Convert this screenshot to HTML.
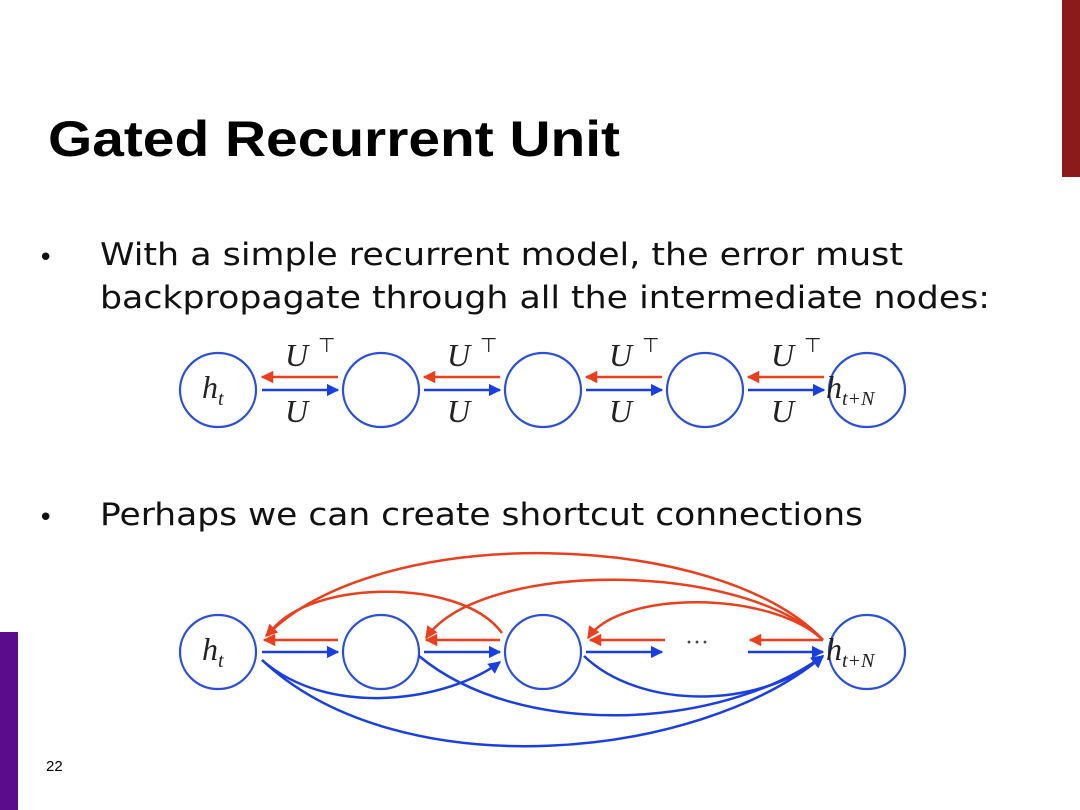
<!DOCTYPE html>
<html><head><meta charset="utf-8"><style>
html,body{margin:0;padding:0;background:#fff;}
svg{display:block}
</style></head><body>
<svg width="1080" height="810" viewBox="0 0 1080 810" xmlns="http://www.w3.org/2000/svg">
<defs>
<marker id="ar" viewBox="0 0 10 10" refX="9" refY="5" markerWidth="5" markerHeight="5" orient="auto"><path d="M0,0 L10,5 L0,10 z" fill="#e8401e"/></marker>
<marker id="ab" viewBox="0 0 10 10" refX="9" refY="5" markerWidth="5" markerHeight="5" orient="auto"><path d="M0,0 L10,5 L0,10 z" fill="#1a3fe0"/></marker>
</defs>
<rect x="1062" y="0" width="18" height="177" fill="#8b1a1a"/>
<rect x="0" y="632" width="18" height="178" fill="#5b0c8c"/>
<text x="48" y="156" font-family="Liberation Sans, sans-serif" font-weight="bold" font-size="50" textLength="572" lengthAdjust="spacingAndGlyphs">Gated Recurrent Unit</text>
<g font-family="DejaVu Sans, sans-serif" font-size="31" fill="#111">
<text x="38" y="266" font-size="26">•</text>
<text x="100" y="265" textLength="803" lengthAdjust="spacingAndGlyphs">With a simple recurrent model, the error must</text>
<text x="100" y="308" textLength="890" lengthAdjust="spacingAndGlyphs">backpropagate through all the intermediate nodes:</text>
<text x="38" y="526" font-size="26">•</text>
<text x="100" y="525" textLength="763" lengthAdjust="spacingAndGlyphs">Perhaps we can create shortcut connections</text>
</g>
<text x="46" y="771" font-family="Liberation Sans, sans-serif" font-size="15">22</text>

<!-- top diagram -->
<g fill="none" stroke="#2b4fd8" stroke-width="2.2">
<ellipse cx="218" cy="390" rx="38" ry="37"/>
<ellipse cx="381" cy="390" rx="38" ry="37"/>
<ellipse cx="543" cy="390" rx="38" ry="37"/>
<ellipse cx="705" cy="390" rx="38" ry="37"/>
<ellipse cx="867" cy="390" rx="38" ry="37"/>
</g>
<g stroke-width="2.5">
<line x1="338" y1="377" x2="262" y2="377" stroke="#e8401e" marker-end="url(#ar)"/>
<line x1="500" y1="377" x2="424" y2="377" stroke="#e8401e" marker-end="url(#ar)"/>
<line x1="662" y1="377" x2="586" y2="377" stroke="#e8401e" marker-end="url(#ar)"/>
<line x1="824" y1="377" x2="748" y2="377" stroke="#e8401e" marker-end="url(#ar)"/>
<line x1="262" y1="390" x2="338" y2="390" stroke="#1a3fe0" marker-end="url(#ab)"/>
<line x1="424" y1="390" x2="500" y2="390" stroke="#1a3fe0" marker-end="url(#ab)"/>
<line x1="586" y1="390" x2="662" y2="390" stroke="#1a3fe0" marker-end="url(#ab)"/>
<line x1="748" y1="390" x2="824" y2="390" stroke="#1a3fe0" marker-end="url(#ab)"/>
</g>
<g font-family="Liberation Serif, serif" font-style="italic" font-size="32" fill="#222">
<text x="285" y="366">U</text><text x="318" y="352" font-size="20" font-style="normal">⊤</text>
<text x="447" y="366">U</text><text x="480" y="352" font-size="20" font-style="normal">⊤</text>
<text x="609" y="366">U</text><text x="642" y="352" font-size="20" font-style="normal">⊤</text>
<text x="771" y="366">U</text><text x="804" y="352" font-size="20" font-style="normal">⊤</text>
<text x="285" y="422">U</text><text x="447" y="422">U</text><text x="609" y="422">U</text><text x="771" y="422">U</text>
<text x="202" y="398">h<tspan font-size="20" dy="7">t</tspan></text>
<text x="826" y="398">h<tspan font-size="20" dy="7">t+N</tspan></text>
</g>

<!-- bottom diagram -->
<g fill="none" stroke="#2b4fd8" stroke-width="2.2">
<ellipse cx="218" cy="652" rx="38" ry="37"/>
<ellipse cx="381" cy="652" rx="38" ry="37"/>
<ellipse cx="543" cy="652" rx="38" ry="37"/>
<ellipse cx="867" cy="652" rx="38" ry="37"/>
</g>
<g stroke-width="2.5" fill="none">
<line x1="338" y1="640" x2="264" y2="640" stroke="#e8401e" marker-end="url(#ar)"/>
<line x1="500" y1="640" x2="426" y2="640" stroke="#e8401e" marker-end="url(#ar)"/>
<line x1="665" y1="640" x2="590" y2="640" stroke="#e8401e" marker-end="url(#ar)"/>
<line x1="823" y1="640" x2="750" y2="640" stroke="#e8401e" marker-end="url(#ar)"/>
<line x1="262" y1="652" x2="338" y2="652" stroke="#1a3fe0" marker-end="url(#ab)"/>
<line x1="424" y1="652" x2="500" y2="652" stroke="#1a3fe0" marker-end="url(#ab)"/>
<line x1="586" y1="652" x2="662" y2="652" stroke="#1a3fe0" marker-end="url(#ab)"/>
<line x1="748" y1="652" x2="823" y2="652" stroke="#1a3fe0" marker-end="url(#ab)"/>
<path d="M823,640 C720,530 380,520 266,636" stroke="#e8401e" marker-end="url(#ar)"/>
<path d="M823,640 C740,560 480,560 426,638" stroke="#e8401e" marker-end="url(#ar)"/>
<path d="M823,640 C770,590 620,590 588,638" stroke="#e8401e" marker-end="url(#ar)"/>
<path d="M502,633 C460,575 300,580 268,636" stroke="#e8401e"/>
<path d="M262,660 C330,720 450,700 500,662" stroke="#1a3fe0" marker-end="url(#ab)"/>
<path d="M262,660 C400,790 700,760 823,656" stroke="#1a3fe0" marker-end="url(#ab)"/>
<path d="M419,656 C520,740 720,730 823,656" stroke="#1a3fe0" marker-end="url(#ab)"/>
<path d="M584,656 C640,710 760,710 823,656" stroke="#1a3fe0" marker-end="url(#ab)"/>
</g>
<text x="685" y="650" font-family="Liberation Serif, serif" font-size="24" fill="#444">···</text>
<g font-family="Liberation Serif, serif" font-style="italic" font-size="32" fill="#222">
<text x="202" y="660">h<tspan font-size="20" dy="7">t</tspan></text>
<text x="826" y="660">h<tspan font-size="20" dy="7">t+N</tspan></text>
</g>
</svg>
</body></html>
